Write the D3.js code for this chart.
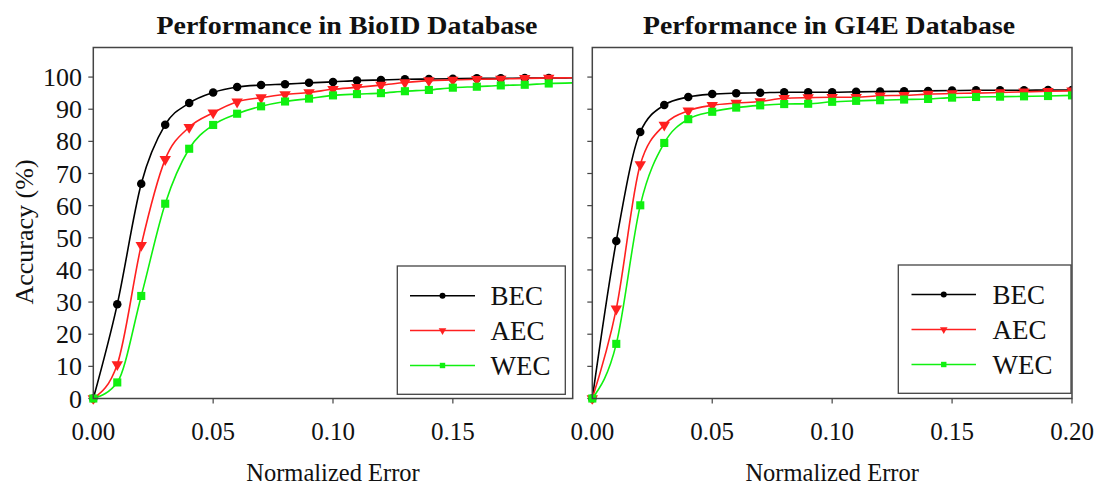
<!DOCTYPE html>
<html>
<head>
<meta charset="utf-8">
<script src="https://cdn.jsdelivr.net/npm/d3@7"></script>
<style>
  body { margin: 0; background: #fff; }
  text { font-family: "Liberation Serif", "Times New Roman", serif; fill: #111; }
</style>
</head>
<body>
<script>
// normalized error thresholds
const errors = [0, 0.01, 0.02, 0.03, 0.04, 0.05, 0.06, 0.07, 0.08, 0.09, 0.10,
  0.11, 0.12, 0.13, 0.14, 0.15, 0.16, 0.17, 0.18, 0.19, 0.20];

// BioID accuracy (%)
const bioidBEC = [0, 29.3, 66.8, 85.2, 91.9, 95.2, 96.9, 97.5, 97.8, 98.2, 98.5,
  98.9, 99.1, 99.3, 99.4, 99.5, 99.6, 99.6, 99.7, 99.7, 99.8];
const bioidAEC = [0, 10.6, 47.7, 74.4, 84.4, 88.9, 92.3, 93.6, 94.6, 95.2, 96.2,
  96.8, 97.5, 98.3, 98.9, 99.1, 99.3, 99.4, 99.6, 99.7, 99.8];
const bioidWEC = [0, 5.0, 31.9, 60.6, 77.7, 85.1, 88.6, 90.9, 92.4, 93.3, 94.3,
  94.7, 95.0, 95.6, 96.0, 96.7, 97.0, 97.4, 97.6, 98.0, 98.2];

// GI4E accuracy (%)
const gi4eBEC = [0, 49.0, 82.9, 91.3, 93.8, 94.7, 95.0, 95.1, 95.3, 95.3, 95.3,
  95.4, 95.5, 95.6, 95.7, 95.8, 95.9, 95.9, 95.9, 96.0, 96.0];
const gi4eAEC = [0, 27.9, 72.8, 85.1, 89.5, 91.2, 91.9, 92.4, 93.4, 93.6, 93.7,
  93.7, 94.2, 94.3, 94.7, 94.9, 95.0, 95.2, 95.4, 95.6, 95.7];
const gi4eWEC = [0, 17.0, 60.1, 79.5, 86.9, 89.2, 90.5, 91.2, 91.6, 91.7, 92.3,
  92.6, 92.8, 93.0, 93.2, 93.6, 93.8, 93.9, 94.0, 94.1, 94.3];

const seriesNames = ['BEC', 'AEC', 'WEC'];
const seriesColors = ['#000000', '#ff2020', '#10f010'];
const yTicks = [0, 10, 20, 30, 40, 50, 60, 70, 80, 90, 100];
const xTicksBioID = [0, 0.05, 0.10, 0.15];
const xTicksGI4E = [0, 0.05, 0.10, 0.15, 0.20];

const W = 1096, H = 485;
const plotTop = 47.5, plotBottom = 398.5;

const svg = d3.select('body').append('svg')
  .attr('width', W)
  .attr('height', H);

const y = d3.scaleLinear().domain([0, 109.2]).range([plotBottom, plotTop]);

const panels = [
  { title: 'Performance in BioID Database', titleX: 347, titleW: 381, x0: 93.3, x1: 572.7,
    data: [bioidBEC, bioidAEC, bioidWEC], ticks: xTicksBioID, yLabels: true, lastMarker: false,
    legend: { x: 397.3, y: 266, w: 168, h: 128.3, lx0: 410, lx1: 475, tx: 490.5, rows: [295.7, 330.5, 365.5] } },
  { title: 'Performance in GI4E Database', titleX: 829, titleW: 372, x0: 592.3, x1: 1072,
    data: [gi4eBEC, gi4eAEC, gi4eWEC], ticks: xTicksGI4E, yLabels: false, lastMarker: true,
    legend: { x: 898.3, y: 265, w: 172.7, h: 128.3, lx0: 911.5, lx1: 976, tx: 992.5, rows: [294.5, 329.5, 364.5] } }
];

function marker(g, i, size) {
  if (i === 0) {
    g.append('circle').attr('r', size * 0.5).attr('fill', seriesColors[i]);
  } else if (i === 1) {
    g.append('path')
      .attr('d', d3.symbol(d3.symbolTriangle, size * size * 0.7)())
      .attr('transform', 'rotate(180)')
      .attr('fill', seriesColors[i]);
  } else {
    g.append('rect')
      .attr('x', -size * 0.45).attr('y', -size * 0.45)
      .attr('width', size * 0.9).attr('height', size * 0.9)
      .attr('fill', seriesColors[i]);
  }
}

panels.forEach(function(p, pi) {
  const x = d3.scaleLinear().domain([0, 0.2]).range([p.x0, p.x1]);
  const g = svg.append('g');

  // title
  g.append('text')
    .attr('x', p.titleX)
    .attr('y', 33.5)
    .attr('text-anchor', 'middle')
    .attr('font-weight', 'bold')
    .attr('font-size', 26)
    .attr('textLength', p.titleW)
    .attr('lengthAdjust', 'spacingAndGlyphs')
    .text(p.title);

  // y ticks
  g.selectAll('.ytick')
    .data(yTicks)
    .enter().append('line')
    .attr('x1', p.x0 - 5).attr('x2', p.x0)
    .attr('y1', d => y(d)).attr('y2', d => y(d))
    .attr('stroke', '#444').attr('stroke-width', 1.2);

  if (p.yLabels) {
    g.selectAll('.ylab')
      .data(yTicks)
      .enter().append('text')
      .attr('x', 82)
      .attr('y', d => y(d))
      .attr('dy', '0.35em')
      .attr('text-anchor', 'end')
      .attr('font-size', 26)
      .text(d => d);

    g.append('text')
      .attr('transform', 'translate(33,' + ((plotTop + plotBottom) / 2 + 9) + ') rotate(-90)')
      .attr('text-anchor', 'middle')
      .attr('font-size', 26)
      .text('Accuracy (%)');
  }

  // x ticks
  g.selectAll('.xtick')
    .data(p.ticks.filter(d => d > 0))
    .enter().append('line')
    .attr('x1', d => x(d)).attr('x2', d => x(d))
    .attr('y1', plotBottom).attr('y2', plotBottom + 5)
    .attr('stroke', '#444').attr('stroke-width', 1.2);

  g.selectAll('.xlab')
    .data(p.ticks)
    .enter().append('text')
    .attr('x', d => x(d))
    .attr('y', 439.5)
    .attr('text-anchor', 'middle')
    .attr('font-size', 25)
    .text(d => d3.format('.2f')(d));

  g.append('text')
    .attr('x', (p.x0 + p.x1) / 2)
    .attr('y', 481)
    .attr('text-anchor', 'middle')
    .attr('font-size', 24.5)
    .text('Normalized Error');

  // clip
  const clipId = 'clip' + pi;
  svg.append('clipPath').attr('id', clipId)
    .append('rect')
    .attr('x', p.x0 - 6).attr('y', plotTop)
    .attr('width', p.x1 - p.x0 + 6).attr('height', plotBottom - plotTop + 6);

  const plot = g.append('g').attr('clip-path', 'url(#' + clipId + ')');

  const line = d3.line()
    .x((d, i) => x(errors[i]))
    .y(d => y(d))
    .curve(d3.curveMonotoneX);

  p.data.forEach(function(vals, si) {
    plot.append('path')
      .datum(vals)
      .attr('d', line)
      .attr('fill', 'none')
      .attr('stroke', seriesColors[si])
      .attr('stroke-width', 1.6);

    const pts = vals.map((v, i) => [errors[i], v])
      .filter(d => p.lastMarker || d[0] < 0.2);
    plot.selectAll('.m' + si)
      .data(pts)
      .enter().append('g')
      .attr('transform', d => 'translate(' + x(d[0]) + ',' + y(d[1]) + ')')
      .each(function() { marker(d3.select(this), si, si === 0 ? 8.5 : 9); });
  });

  // frame
  g.append('rect')
    .attr('x', p.x0).attr('y', plotTop)
    .attr('width', p.x1 - p.x0).attr('height', plotBottom - plotTop)
    .attr('fill', 'none')
    .attr('stroke', '#444').attr('stroke-width', 1.5);

  // legend
  const L = p.legend;
  g.append('rect')
    .attr('x', L.x).attr('y', L.y)
    .attr('width', L.w).attr('height', L.h)
    .attr('fill', '#fff')
    .attr('stroke', '#444').attr('stroke-width', 1.3);

  seriesNames.forEach(function(name, si) {
    g.append('line')
      .attr('x1', L.lx0).attr('x2', L.lx1)
      .attr('y1', L.rows[si]).attr('y2', L.rows[si])
      .attr('stroke', seriesColors[si]).attr('stroke-width', 1.6);
    const mg = g.append('g')
      .attr('transform', 'translate(' + ((L.lx0 + L.lx1) / 2) + ',' + L.rows[si] + ')');
    marker(mg, si, 6);
    g.append('text')
      .attr('x', L.tx)
      .attr('y', L.rows[si])
      .attr('dy', '0.35em')
      .attr('font-size', 27)
      .text(name);
  });
});
</script>
</body>
</html>
